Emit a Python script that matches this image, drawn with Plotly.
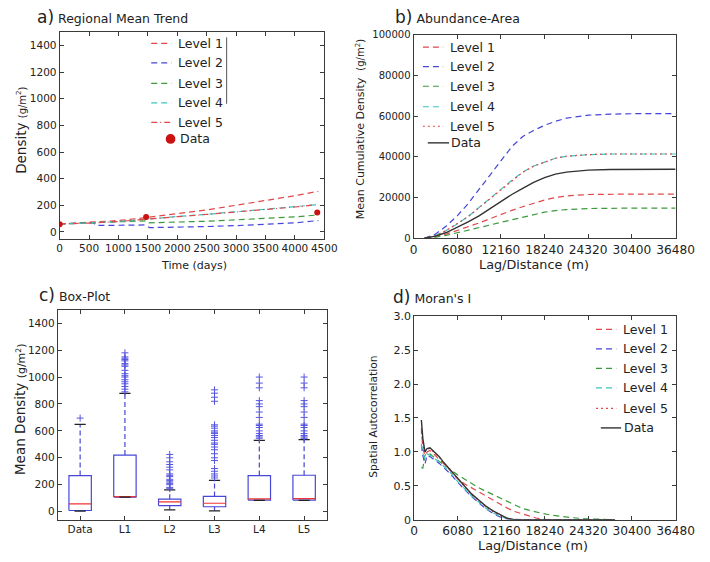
import plotly.graph_objects as go

# ---------------- data ----------------
# a) Regional mean trend
a_x_l1 = [0, 500, 1000, 1470, 2000, 2500, 3000, 3500, 4000, 4400]
a_l1 = [60, 70, 85, 107, 135, 165, 200, 235, 272, 305]
a_l4 = [60, 66, 78, 98, 115, 132, 150, 168, 188, 205]
a_l5 = [60, 66, 78, 97, 114, 131, 149, 167, 187, 206]
a_x_l3 = [0, 500, 1000, 1470, 1500, 2000, 2500, 3000, 3500, 4000, 4400]
a_l3 = [60, 66, 75, 83, 68, 72, 80, 90, 100, 113, 127]
a_x_l2 = [0, 500, 580, 620, 1000, 1450, 1530, 2000, 2500, 3000, 3500, 4000, 4400]
a_l2 = [60, 66, 68, 48, 50, 52, 32, 34, 40, 47, 55, 68, 85]
a_data_x = [0, 1470, 4380]
a_data_y = [58, 112, 146]
a_xticks = [0, 500, 1000, 1500, 2000, 2500, 3000, 3500, 4000, 4500]

# b) Abundance-area (values in g/m2)
b_x = [1520, 3040, 4560, 6080, 7600, 9120, 10640, 12160, 13680, 15200, 16720,
       18240, 19760, 21280, 24320, 27360, 30400, 36480]
b_l1 = [0, 800, 2000, 3800, 5500, 7500, 9600, 11700, 13700, 15500, 17200,
        18800, 20000, 20800, 21500, 21700, 21700, 21700]
b_l2 = [0, 2000, 6000, 11000, 17000, 24000, 31000, 38500, 45000, 50000, 53000,
        55500, 57500, 59000, 60500, 61000, 61200, 61200]
b_l3 = [0, 500, 1400, 2600, 3900, 5300, 6500, 7800, 9100, 10300, 11600,
        12800, 13600, 14100, 14600, 14800, 14800, 14800]
b_l4 = [0, 1300, 3800, 7000, 10700, 15000, 19500, 24000, 28500, 32500, 35500,
        37500, 39300, 40300, 41100, 41400, 41400, 41400]
b_l5 = [0, 1300, 3800, 7000, 10600, 15000, 19400, 24000, 28400, 32400, 35400,
        37500, 39300, 40300, 41100, 41400, 41400, 41400]
b_data = [0, 1000, 2800, 5300, 8000, 11000, 14500, 18000, 21500, 24500, 27500,
          29800, 31500, 32500, 33500, 33800, 33900, 33900]
lag_ticks = [0, 6080, 12160, 18240, 24320, 30400, 36480]
lag_labels = ["0", "6080", "12160", "18240", "24320", "30400", "36480"]

# c) Box-plot statistics
c_names = ["Data", "L1", "L2", "L3", "L4", "L5"]
c_lo = [3, 108, 13, 6, 84, 84]
c_q1 = [8, 108, 45, 36, 86, 86]
c_med = [57, 112, 72, 62, 95, 96]
c_q3 = [268, 420, 92, 113, 268, 270]
c_hi = [648, 878, 162, 232, 530, 535]
c_out = [
    [695],
    [890, 910, 930, 950, 965, 980, 1000, 1010, 1025, 1050, 1080, 1090, 1100,
     1120, 1130, 1140, 1150, 1180],
    [170, 180, 200, 210, 220, 230, 240, 260, 270, 280, 310, 330, 350, 370, 400, 425],
    [250, 265, 280, 300, 320, 380, 400, 430, 460, 480, 500, 510, 530, 550, 565,
     580, 590, 600, 620, 635, 645, 820, 850, 880, 905],
    [545, 555, 565, 580, 600, 625, 640, 650, 700, 740, 780, 800, 825, 920, 955, 1000],
    [545, 555, 565, 580, 600, 625, 640, 650, 700, 740, 780, 800, 825, 920, 955, 1000],
]

# d) Moran's I
d_x = [1000, 1200, 1500, 1800, 2200, 2600, 3000, 3500, 4000, 5000, 6080, 7000,
       8000, 9000, 10000, 11000, 12000, 13000, 14000, 15000, 16000, 17000,
       18000, 19000, 20000, 22000, 24000, 26000, 28000]
d_l1 = [1.35, 1.05, 0.95, 1.0, 1.02, 0.98, 0.95, 0.9, 0.84, 0.73, 0.6, 0.53,
        0.47, 0.41, 0.34, 0.28, 0.22, 0.17, 0.12, 0.085, 0.05, 0.025, 0.005, 0,
        0, 0, 0, 0, 0]
d_l2 = [1.1, 0.95, 0.82, 0.95, 0.93, 0.9, 0.88, 0.83, 0.78, 0.68, 0.55, 0.45,
        0.34, 0.25, 0.16, 0.09, 0.04, 0.01, 0, 0, 0, 0, 0, 0, 0, 0, 0, 0, 0]
d_l3 = [0.77, 0.76, 0.95, 0.98, 0.97, 0.93, 0.9, 0.86, 0.82, 0.74, 0.66, 0.6,
        0.53, 0.47, 0.42, 0.37, 0.31, 0.26, 0.21, 0.17, 0.14, 0.11, 0.09, 0.07,
        0.055, 0.03, 0.013, 0.003, 0]
d_l4 = [1.12, 0.98, 0.9, 0.97, 0.95, 0.92, 0.9, 0.85, 0.8, 0.7, 0.56, 0.46,
        0.35, 0.26, 0.17, 0.1, 0.05, 0.015, 0, 0, 0, 0, 0, 0, 0, 0, 0, 0, 0]
d_l5 = [1.3, 1.1, 1.0, 1.04, 1.05, 1.01, 0.98, 0.92, 0.85, 0.73, 0.59, 0.48,
        0.37, 0.28, 0.19, 0.12, 0.06, 0.02, 0, 0, 0, 0, 0, 0, 0, 0, 0, 0, 0]
d_data = [1.47, 1.2, 1.0, 1.05, 1.06, 1.02, 0.99, 0.93, 0.86, 0.74, 0.6, 0.49,
          0.38, 0.29, 0.2, 0.13, 0.07, 0.02, 0, 0, 0, 0, 0, 0, 0, 0, 0, 0, 0]
d_yticks = [0, 0.5, 1.0, 1.5, 2.0, 2.5, 3.0]
d_ylabels = ["0", "0.5", "1.0", "1.5", "2.0", "2.5", "3.0"]

# ---------------- style ----------------
FONT = "DejaVu Sans"
TXT = "#222222"
RED = "#e0484a"
BLUE = "#4646d8"
GREEN = "#3c9a3c"
CYAN = "#3cc4c0"
DARK = "#333333"
FRAME = "#3a3a3a"
DASH = "6px,4px"
DASHDOT = "6px,3px,1px,3px"
DOT = "2px,3px"

# The page body has an 8px default margin; size the figure so the page fits the
# 710x562 window exactly and convert window pixel positions to paper fractions.
OFF = 8
W, H = 710 - 2 * OFF, 562 - 2 * OFF


def fx(x):
    return (x - OFF) / W


def fy(y):
    return 1 - (y - OFF) / H


def px(x0, x1):
    return [fx(x0), fx(x1)]


def py(top, bottom):
    return [fy(bottom), fy(top)]


fig = go.Figure()


def line(x, y, color, dash, name, xa, ya, width=1.2):
    fig.add_trace(go.Scatter(
        x=x, y=y, mode="lines", name=name,
        line=dict(color=color, dash=dash, width=width),
        xaxis=xa, yaxis=ya, showlegend=False))


# panel a
line(a_x_l1, a_l1, RED, DASH, "Level 1", "x", "y")
line(a_x_l2, a_l2, BLUE, DASH, "Level 2", "x", "y")
line(a_x_l3, a_l3, GREEN, DASH, "Level 3", "x", "y")
line(a_x_l1, a_l4, CYAN, DASH, "Level 4", "x", "y")
line(a_x_l1, a_l5, RED, DASHDOT, "Level 5", "x", "y")
fig.add_trace(go.Scatter(
    x=a_data_x, y=a_data_y, mode="markers", name="Data",
    marker=dict(color="#cc1111", size=6), xaxis="x", yaxis="y", showlegend=False))

# panel b
line(b_x, b_l1, RED, DASH, "Level 1", "x2", "y2")
line(b_x, b_l2, BLUE, DASH, "Level 2", "x2", "y2")
line(b_x, b_l3, GREEN, DASH, "Level 3", "x2", "y2")
line(b_x, b_l4, CYAN, DASH, "Level 4", "x2", "y2")
line(b_x, b_l5, RED, DOT, "Level 5", "x2", "y2")
line(b_x, b_data, DARK, "solid", "Data", "x2", "y2", width=1.4)

# panel c (box plot drawn from statistics)
w = 0.25
bx, by, mx, my, wx, wy, cx, cy, ox, oy = [], [], [], [], [], [], [], [], [], []
for i in range(len(c_names)):
    p = i + 1
    bx += [p - w, p + w, p + w, p - w, p - w, None]
    by += [c_q1[i], c_q1[i], c_q3[i], c_q3[i], c_q1[i], None]
    mx += [p - w, p + w, None]
    my += [c_med[i], c_med[i], None]
    wx += [p, p, None, p, p, None]
    wy += [c_q3[i], c_hi[i], None, c_lo[i], c_q1[i], None]
    cx += [p - w / 2, p + w / 2, None, p - w / 2, p + w / 2, None]
    cy += [c_hi[i], c_hi[i], None, c_lo[i], c_lo[i], None]
    ox += [p] * len(c_out[i])
    oy += c_out[i]

fig.add_trace(go.Scatter(x=wx, y=wy, mode="lines", line=dict(color=BLUE, dash="5px,3px", width=1.2),
                         xaxis="x3", yaxis="y3", showlegend=False))
fig.add_trace(go.Scatter(x=bx, y=by, mode="lines", line=dict(color=BLUE, width=1.2),
                         xaxis="x3", yaxis="y3", showlegend=False))
fig.add_trace(go.Scatter(x=mx, y=my, mode="lines", line=dict(color="#ee3333", width=1.2),
                         xaxis="x3", yaxis="y3", showlegend=False))
fig.add_trace(go.Scatter(x=cx, y=cy, mode="lines", line=dict(color="#222222", width=1.2),
                         xaxis="x3", yaxis="y3", showlegend=False))
fig.add_trace(go.Scatter(x=ox, y=oy, mode="markers",
                         marker=dict(symbol="cross-thin", size=5, color=BLUE,
                                     line=dict(color="#5555e0", width=1)),
                         xaxis="x3", yaxis="y3", showlegend=False))

# panel d
line(d_x, d_l1, RED, DASH, "Level 1", "x4", "y4")
line(d_x, d_l2, BLUE, DASH, "Level 2", "x4", "y4")
line(d_x, d_l3, GREEN, DASH, "Level 3", "x4", "y4")
line(d_x, d_l4, CYAN, DASH, "Level 4", "x4", "y4")
line(d_x, d_l5, RED, DOT, "Level 5", "x4", "y4")
line(d_x, d_data, DARK, "solid", "Data", "x4", "y4", width=1.4)


def axis(domain, anchor, rng, tickfont=10.5, **kw):
    d = dict(domain=domain, anchor=anchor, range=rng, showline=True, linecolor=FRAME,
             linewidth=1, mirror="ticks", ticks="inside", ticklen=4, tickcolor=FRAME,
             showgrid=False, zeroline=False, tickangle=0,
             tickfont=dict(family=FONT, size=tickfont, color=TXT))
    d.update(kw)
    return d


fig.update_layout(
    width=W, height=H, margin=dict(l=0, r=0, t=0, b=0),
    paper_bgcolor="white", plot_bgcolor="white",
    font=dict(family=FONT, color=TXT), showlegend=False,
    xaxis=axis(px(57.3, 331), "y", [0, 4500], tickvals=a_xticks),
    yaxis=axis(py(26.7, 238), "x", [-50, 1500], tickvals=list(range(0, 1401, 200))),
    xaxis2=axis(px(423.3, 694.3), "y2", [0, 36480], tickfont=12.2, tickvals=lag_ticks, ticktext=lag_labels),
    yaxis2=axis(py(29.3, 237.7), "x2", [0, 100000], tickfont=10,
                tickvals=list(range(0, 100001, 20000)), tickformat="d"),
    xaxis3=axis(px(55.3, 333.3), "y3", [0.5, 6.5], tickvals=[1, 2, 3, 4, 5, 6], ticktext=c_names),
    yaxis3=axis(py(311, 526), "x3", [-60, 1500], tickvals=list(range(0, 1401, 200))),
    xaxis4=axis(px(424, 694.3), "y4", [0, 36480], tickfont=12.2, tickvals=lag_ticks, ticktext=lag_labels),
    yaxis4=axis(py(317.7, 526), "x4", [0, 3.0], tickfont=11, tickvals=d_yticks, ticktext=d_ylabels),
)


def ann(text, x, y, size, angle=0, xanchor="center", yanchor="middle"):
    fig.add_annotation(text=text, x=fx(x), y=fy(y), xref="paper", yref="paper",
                       showarrow=False, textangle=angle, xanchor=xanchor, yanchor=yanchor,
                       font=dict(family=FONT, size=size, color=TXT))


# ---------------- legends (keys drawn in paper space) ----------------
LEG_SIZE = 12.5
level_names = ["Level 1", "Level 2", "Level 3", "Level 4", "Level 5"]


def legend_block(x0, x1, xt, rows, styles, data_kind, data_x0, data_x1, data_xt):
    for name, yy, (col, dsh) in zip(level_names, rows, styles):
        fig.add_shape(type="line", xref="paper", yref="paper", x0=fx(x0), x1=fx(x1),
                      y0=fy(yy), y1=fy(yy), line=dict(color=col, dash=dsh, width=1.2))
        ann(name, xt, yy, LEG_SIZE, xanchor="left")
    yd = rows[-1]
    if data_kind == "marker":
        fig.add_shape(type="circle", xref="paper", yref="paper",
                      x0=fx(data_x0 - 5), x1=fx(data_x0 + 5),
                      y0=fy(yd + 5), y1=fy(yd - 5),
                      fillcolor="#cc1111", line=dict(color="#cc1111", width=0))
    else:
        fig.add_shape(type="line", xref="paper", yref="paper", x0=fx(data_x0), x1=fx(data_x1),
                      y0=fy(yd), y1=fy(yd), line=dict(color=DARK, width=1.4))
    ann("Data", data_xt, yd, LEG_SIZE, xanchor="left")


legend_block(152, 173, 178, [38, 58, 79, 99, 119, 136],
             [(RED, DASH), (BLUE, DASH), (GREEN, DASH), (CYAN, DASH), (RED, DASHDOT)],
             "marker", 172, None, 180)
legend_block(433, 454, 459, [42, 62, 82, 103, 123, 140],
             [(RED, DASH), (BLUE, DASH), (GREEN, DASH), (CYAN, DASH), (RED, DOT)],
             "line", 438, 460, 460)
legend_block(612, 633, 638, [331, 351, 371, 391, 412, 432],
             [(RED, DASH), (BLUE, DASH), (GREEN, DASH), (CYAN, DASH), (RED, DOT)],
             "line", 617, 638, 639)

# remnant legend frame line in panel a
fig.add_shape(type="line", xref="paper", yref="paper", x0=fx(230), x1=fx(230),
              y0=fy(100), y1=fy(32), line=dict(color="#555555", width=1))

# panel titles
ann("<span style='font-size:17px'>a)</span> Regional Mean Trend", 32, 11, 12.5, xanchor="left")
ann("<span style='font-size:17px'>b)</span> Abundance-Area", 402, 11, 12.5, xanchor="left")
ann("<span style='font-size:17px'>c)</span> Box-Plot", 34, 296, 12.5, xanchor="left")
ann("<span style='font-size:17px'>d)</span> Moran's I", 400, 298, 12.5, xanchor="left")

# axis titles
ann("Time (days)", 196, 266, 11)
ann("Density <span style='font-size:10px'>(g/m<sup>2</sup>)</span>", 17, 127, 13.5, angle=-90)
ann("Lag/Distance (m)", 548, 265, 12.8)
ann("Mean Cumulative Density  <span style='font-size:10px'>(g/m<sup>2</sup>)</span>", 368, 126, 11, angle=-90)
ann("Mean Density <span style='font-size:11px'>(g/m<sup>2</sup>)</span>", 17, 413, 13.5, angle=-90)
ann("Lag/Distance (m)", 547, 552, 12.8)
ann("Spatial Autocorrelation", 382, 421, 10.7, angle=-90)

fig.write_html("out.html")
